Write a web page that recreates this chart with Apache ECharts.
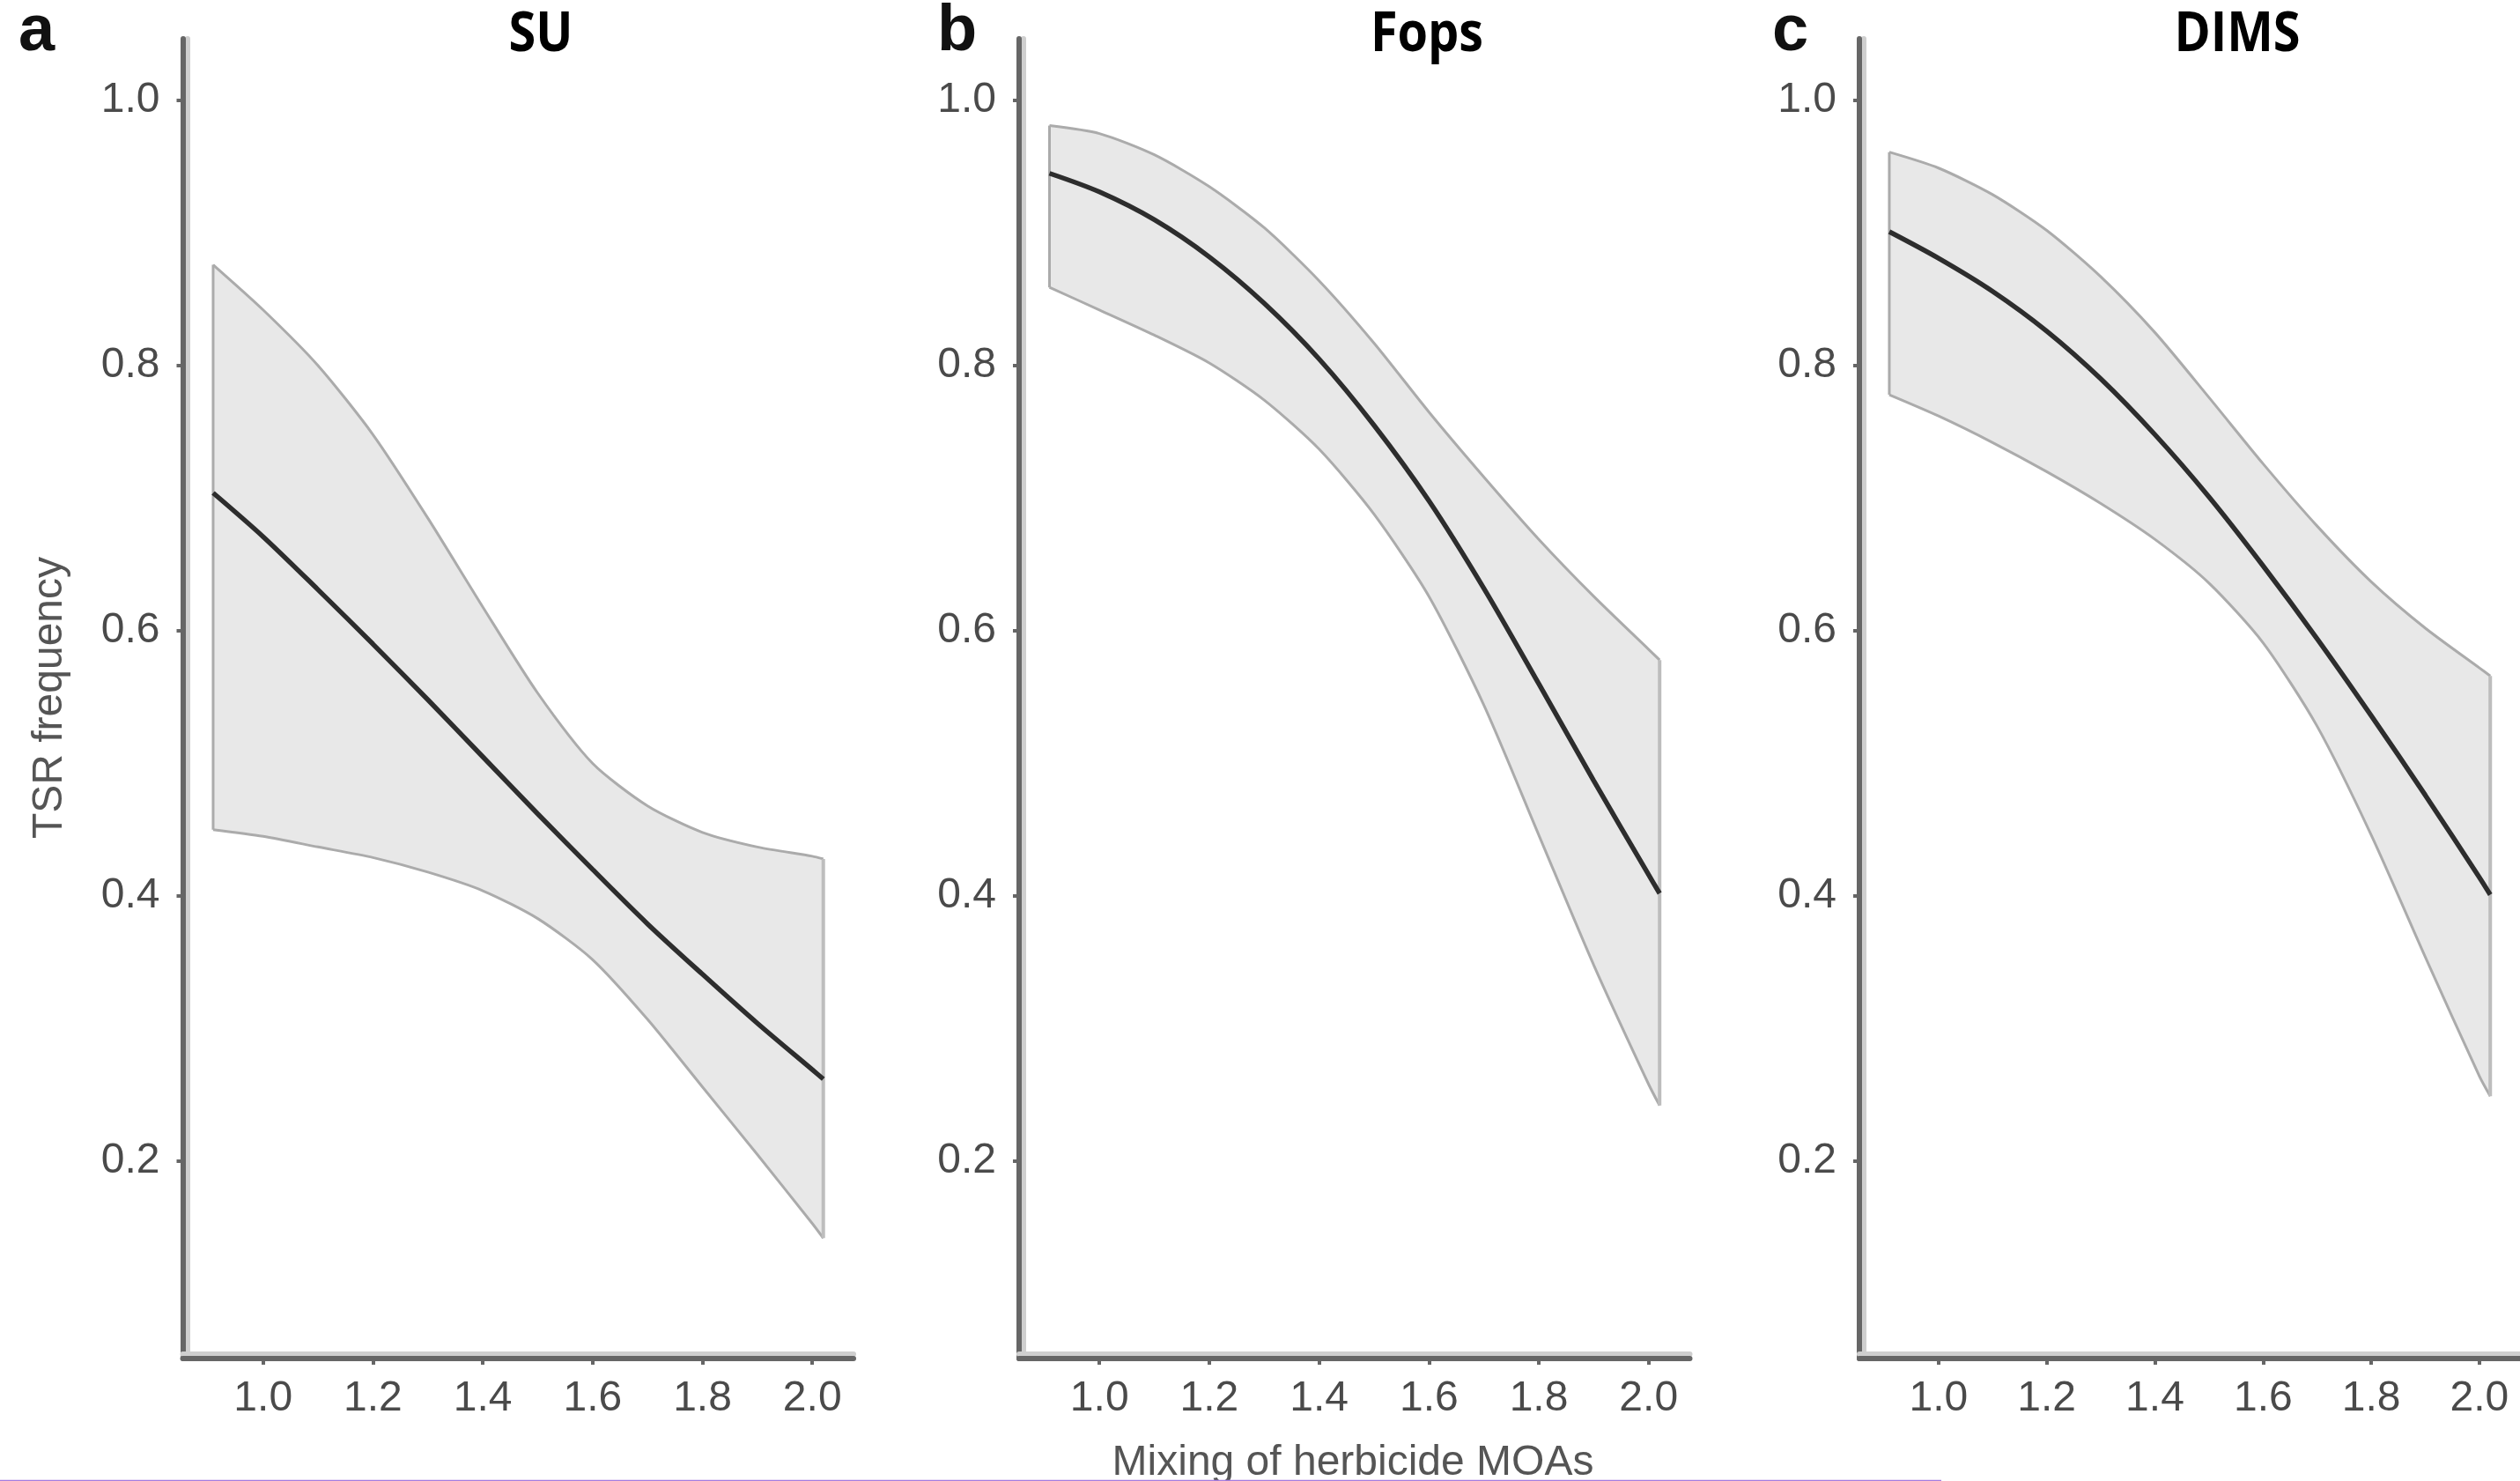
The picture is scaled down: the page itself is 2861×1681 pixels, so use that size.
<!DOCTYPE html>
<html>
<head>
<meta charset="utf-8">
<script src="https://cdn.jsdelivr.net/npm/echarts@6/dist/echarts.min.js"></script>
<style>
  html, body { margin: 0; padding: 0; background: #ffffff; }
  #chart { width: 2861px; height: 1681px; }
</style>
</head>
<body>
<div id="chart"></div>
<script>
// Mixing of herbicide modes of action (x positions of the fitted curves)
const mixing = [0.909, 1.0, 1.1, 1.2, 1.3, 1.4, 1.5, 1.6, 1.7, 1.8, 1.9, 2.0, 2.02];

// SU
const suFit   = [0.704, 0.671, 0.631, 0.590, 0.548, 0.505, 0.462, 0.420, 0.379, 0.341, 0.304, 0.269, 0.262];
const suUpper = [0.876, 0.842, 0.800, 0.748, 0.685, 0.618, 0.553, 0.500, 0.468, 0.448, 0.437, 0.430, 0.428];
const suLower = [0.450, 0.445, 0.437, 0.429, 0.418, 0.404, 0.383, 0.352, 0.307, 0.256, 0.205, 0.153, 0.142];

// Fops
const fopsFit   = [0.945, 0.931, 0.910, 0.882, 0.847, 0.805, 0.755, 0.698, 0.632, 0.560, 0.487, 0.416, 0.402];
const fopsUpper = [0.981, 0.975, 0.959, 0.935, 0.904, 0.864, 0.817, 0.765, 0.716, 0.669, 0.626, 0.586, 0.578];
const fopsLower = [0.859, 0.842, 0.823, 0.802, 0.774, 0.737, 0.688, 0.626, 0.544, 0.446, 0.348, 0.258, 0.242];

// DIMS
const dimsFit   = [0.901, 0.881, 0.856, 0.826, 0.790, 0.748, 0.701, 0.649, 0.594, 0.536, 0.476, 0.414, 0.401];
const dimsUpper = [0.961, 0.949, 0.929, 0.902, 0.867, 0.825, 0.776, 0.726, 0.679, 0.637, 0.602, 0.572, 0.566];
const dimsLower = [0.778, 0.762, 0.742, 0.720, 0.696, 0.669, 0.636, 0.591, 0.528, 0.446, 0.354, 0.264, 0.249];

const xTicks = [1.0, 1.2, 1.4, 1.6, 1.8, 2.0];
const yTicks = [0.2, 0.4, 0.6, 0.8, 1.0];

const panelLetters = ['a', 'b', 'c'];
const panelTitles = ['SU', 'Fops', 'DIMS'];
const yAxisTitle = 'TSR frequency';
const xAxisTitle = 'Mixing of herbicide MOAs';

const panels = [
  { fit: suFit, upper: suUpper, lower: suLower },
  { fit: fopsFit, upper: fopsUpper, lower: fopsLower },
  { fit: dimsFit, upper: dimsUpper, lower: dimsLower }
];

// layout
const gridLefts = [207.5, 1157, 2111];
const gridTop = 44;
const gridWidth = 761.5;
const gridHeight = 1498;
const titleCenters = [614, 1620, 2540];
const letterLefts = [21, 1064, 2012];

const axisGrey = '#666666';
const labelGrey = '#4a4a4a';
const tickFont = 'Liberation Sans, Arial, Helvetica, sans-serif';

const grids = [], xAxes = [], yAxes = [], series = [];

panels.forEach((p, i) => {
  grids.push({ left: gridLefts[i], top: gridTop, width: gridWidth, height: gridHeight, containLabel: false });

  xAxes.push({
    type: 'value', gridIndex: i, min: 0.8537, max: 2.075,
    splitLine: { show: false },
    axisLine: { show: true, onZero: false,
      lineStyle: { color: axisGrey, width: 6, shadowColor: '#cfcfcf', shadowOffsetY: -5, shadowBlur: 0 } },
    axisTick: { show: true, length: 7, customValues: xTicks, lineStyle: { color: axisGrey, width: 4 } },
    axisLabel: { show: true, customValues: xTicks, margin: 22, fontSize: 48, color: labelGrey,
      fontFamily: tickFont, formatter: v => Number(v).toFixed(1) }
  });

  yAxes.push({
    type: 'value', gridIndex: i, min: 0.0512, max: 1.0465,
    splitLine: { show: false },
    axisLine: { show: true, onZero: false,
      lineStyle: { color: axisGrey, width: 6, shadowColor: '#cfcfcf', shadowOffsetX: 5, shadowBlur: 0 } },
    axisTick: { show: true, length: 7, customValues: yTicks, lineStyle: { color: axisGrey, width: 4 } },
    axisLabel: { show: true, customValues: yTicks, margin: 26, fontSize: 48, color: labelGrey,
      fontFamily: tickFont, formatter: v => Number(v).toFixed(1) }
  });

  // confidence ribbon
  series.push({
    type: 'custom', xAxisIndex: i, yAxisIndex: i, z: 2, silent: true,
    data: [[mixing[0], p.lower[0]]],
    renderItem: (params, api) => {
      const up = mixing.map((x, k) => api.coord([x, p.upper[k]]));
      const lo = mixing.map((x, k) => api.coord([x, p.lower[k]]));
      const edge = { stroke: '#ababab', lineWidth: 3, fill: null };
      return {
        type: 'group',
        children: [
          { type: 'polygon', shape: { points: up.concat(lo.slice().reverse()), smooth: 0 },
            style: { fill: '#e8e8e8', stroke: null } },
          { type: 'polyline', shape: { points: up, smooth: 0.25 }, style: edge },
          { type: 'polyline', shape: { points: lo, smooth: 0.25 }, style: edge },
          { type: 'line', shape: { x1: up[0][0], y1: up[0][1], x2: lo[0][0], y2: lo[0][1] }, style: edge },
          { type: 'line', shape: { x1: up[up.length - 1][0], y1: up[up.length - 1][1],
              x2: lo[lo.length - 1][0], y2: lo[lo.length - 1][1] },
            style: { stroke: '#bdbdbd', lineWidth: 4, fill: null } }
        ]
      };
    }
  });

  // fitted curve
  series.push({
    type: 'line', xAxisIndex: i, yAxisIndex: i, z: 3, silent: true,
    data: mixing.map((x, k) => [x, p.fit[k]]),
    showSymbol: false, smooth: 0.3,
    lineStyle: { color: '#2d2d2d', width: 5.5 }
  });
});

const graphics = [];
panelLetters.forEach((t, i) => {
  graphics.push({ type: 'text', x: letterLefts[i], y: 37, z: 10,
    style: { text: t, fill: '#111111', font: 'bold 74px Liberation Sans, Arial, sans-serif',
      align: 'left', verticalAlign: 'middle' } });
});
panelTitles.forEach((t, i) => {
  graphics.push({ type: 'text', x: titleCenters[i], y: 40, scaleX: 0.9, z: 10,
    style: { text: t, fill: '#000000', font: 'bold 62px "Open Sans", "Noto Sans", sans-serif',
      align: 'center', verticalAlign: 'middle' } });
});
graphics.push({ type: 'text', x: 57, y: 792, rotation: Math.PI / 2, z: 10,
  style: { text: yAxisTitle, fill: '#555555', font: '48px Liberation Sans, Arial, sans-serif',
    align: 'center', verticalAlign: 'middle' } });
graphics.push({ type: 'text', x: 1536, y: 1661, z: 10,
  style: { text: xAxisTitle, fill: '#555555', font: '48px Liberation Sans, Arial, sans-serif',
    align: 'center', verticalAlign: 'middle' } });
graphics.push({ type: 'line', z: 10,
  shape: { x1: 0, y1: 1680.5, x2: 2204, y2: 1680.5 },
  style: { stroke: '#a67ddf', lineWidth: 1.5 } });

const chart = echarts.init(document.getElementById('chart'), null, { renderer: 'canvas' });
chart.setOption({
  animation: false,
  backgroundColor: '#ffffff',
  grid: grids,
  xAxis: xAxes,
  yAxis: yAxes,
  series: series,
  graphic: { elements: graphics }
});
</script>
</body>
</html>
